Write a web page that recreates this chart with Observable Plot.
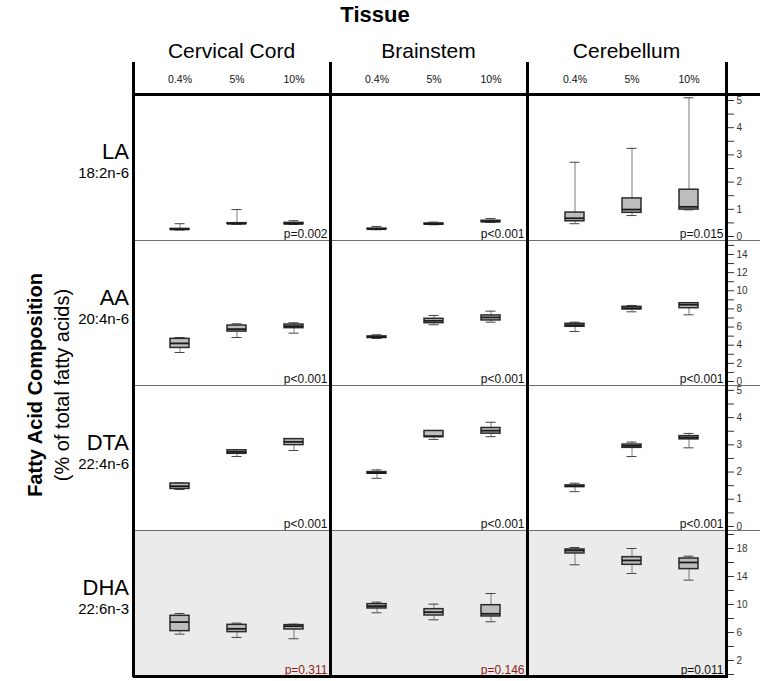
<!DOCTYPE html>
<html>
<head>
<meta charset="utf-8">
<script src="https://cdn.jsdelivr.net/npm/d3@7"></script>
<script src="https://cdn.jsdelivr.net/npm/@observablehq/plot@0.6"></script>
<style>
  body { margin: 0; background: #fff; font-family: "Liberation Sans", Arial, sans-serif; color: #000; }
  #fig { position: relative; width: 760px; height: 681px; overflow: hidden; background: #fff; }
  #fig > * { position: absolute; }
  .txt { white-space: nowrap; line-height: 1; }
</style>
</head>
<body>
<div id="fig"></div>
<script>
// ---------------- DATA ----------------
const tissues = ["Cervical Cord", "Brainstem", "Cerebellum"];
const doses = ["0.4%", "5%", "10%"];
const acids = ["LA", "AA", "DTA", "DHA"];
const acidNotation = ["18:2n-6", "20:4n-6", "22:4n-6", "22:6n-3"];

// Each entry: [min, q1, median, q3, max]; order: tissue (CC, BS, CB) x dose (0.4%, 5%, 10%)
const laStats = [
  [0.24, 0.25, 0.26, 0.28, 0.47], [0.45, 0.46, 0.47, 0.49, 0.99], [0.44, 0.45, 0.47, 0.50, 0.58],
  [0.25, 0.26, 0.27, 0.29, 0.37], [0.43, 0.44, 0.46, 0.48, 0.53], [0.52, 0.53, 0.55, 0.58, 0.66],
  [0.47, 0.56, 0.67, 0.88, 2.73], [0.77, 0.87, 0.99, 1.40, 3.24], [0.98, 0.99, 1.09, 1.72, 5.10]
];
const aaStats = [
  [3.20, 3.70, 4.20, 4.70, 4.85], [4.85, 5.50, 5.77, 6.17, 6.36], [5.33, 5.88, 6.10, 6.28, 6.47],
  [4.74, 4.80, 4.89, 4.97, 5.15], [6.25, 6.43, 6.69, 6.91, 7.28], [6.54, 6.73, 7.06, 7.28, 7.75],
  [5.51, 6.03, 6.21, 6.36, 6.54], [7.68, 7.94, 8.08, 8.23, 8.38], [7.35, 8.08, 8.46, 8.63, 8.66]
];
const dtaStats = [
  [1.36, 1.38, 1.48, 1.58, 1.60], [2.57, 2.67, 2.74, 2.80, 2.82], [2.79, 2.99, 3.11, 3.21, 3.23],
  [1.77, 1.94, 1.97, 2.00, 2.08], [3.20, 3.28, 3.32, 3.51, 3.52], [3.30, 3.41, 3.52, 3.62, 3.83],
  [1.28, 1.45, 1.48, 1.51, 1.59], [2.57, 2.89, 2.96, 3.01, 3.10], [2.89, 3.20, 3.27, 3.32, 3.42]
];
const dhaStats = [
  [5.76, 6.19, 7.48, 8.38, 8.71], [5.29, 6.05, 6.52, 7.09, 7.33], [5.10, 6.43, 6.90, 7.05, 7.19],
  [8.81, 9.43, 9.76, 10.05, 10.33], [7.81, 8.43, 8.90, 9.33, 10.05], [7.53, 8.29, 8.67, 9.90, 11.57],
  [15.67, 17.29, 17.71, 17.86, 18.14], [14.43, 15.67, 16.29, 16.76, 18.00], [13.48, 15.05, 16.00, 16.57, 16.90]
];

const laP = ["p=0.002", "p<0.001", "p=0.015"];
const aaP = ["p<0.001", "p<0.001", "p<0.001"];
const dtaP = ["p<0.001", "p<0.001", "p<0.001"];
const dhaP = ["p=0.311", "p=0.146", "p=0.011"];
const dhaNotSignificant = [true, true, false];

const laTickValues = [0, 0.5, 1, 1.5, 2, 2.5, 3, 3.5, 4, 4.5, 5];
const laTickLabels = [0, 1, 2, 3, 4, 5];
const aaTickValues = [0, 1, 2, 3, 4, 5, 6, 7, 8, 9, 10, 11, 12, 13, 14, 15];
const aaTickLabels = [0, 2, 4, 6, 8, 10, 12, 14];
const dtaTickValues = [0, 0.5, 1, 1.5, 2, 2.5, 3, 3.5, 4, 4.5, 5];
const dtaTickLabels = [0, 1, 2, 3, 4, 5];
const dhaTickValues = [0, 2, 4, 6, 8, 10, 12, 14, 16, 18, 20];
const dhaTickLabels = [2, 6, 10, 14, 18];

// ---------------- LAYOUT ----------------
const allStats = [laStats, aaStats, dtaStats, dhaStats];
const allP = [laP, aaP, dtaP, dhaP];
const allRed = [[false, false, false], [false, false, false], [false, false, false], dhaNotSignificant];
const allTickValues = [laTickValues, aaTickValues, dtaTickValues, dhaTickValues];
const allTickLabels = [laTickLabels, aaTickLabels, dtaTickLabels, dhaTickLabels];
const yDomains = [[-0.147, 5.22], [-0.44, 15.54], [-0.147, 5.18], [-0.29, 20.57]];

const colLefts = [133, 330, 527];
const colWidths = [197, 197, 199];
const rowTops = [94, 240, 385, 530];
const rowHeights = [146, 145, 145, 146];
const FONT = '"Liberation Sans", Arial, sans-serif';

const fig = document.getElementById("fig");

function place(el, left, top) {
  el.style.position = "absolute";
  el.style.left = left + "px";
  el.style.top = top + "px";
  fig.appendChild(el);
  return el;
}
function label(text, x, y, css, anchor = "center", rotate = 0) {
  const d = document.createElement("div");
  d.className = "txt";
  d.textContent = text;
  Object.assign(d.style, css);
  const tx = anchor === "right" ? "-100%" : anchor === "left" ? "0" : "-50%";
  d.style.transform = `translate(${tx},-50%)` + (rotate ? ` rotate(${rotate}deg)` : "");
  place(d, x, y);
  return d;
}
function line(x, y, w, h, color = "#000") {
  const d = document.createElement("div");
  d.style.width = w + "px";
  d.style.height = h + "px";
  d.style.background = color;
  return place(d, x, y);
}

const xBand = {
  type: "band", domain: doses, paddingInner: 0.668, paddingOuter: 0.553, align: 0.576, axis: null
};

// Panels
acids.forEach((acid, ai) => {
  tissues.forEach((tissue, ti) => {
    const data = doses.map((dose, di) => {
      const s = allStats[ai][ti * 3 + di];
      return {dose, min: s[0], q1: s[1], med: s[2], q3: s[3], max: s[4]};
    });
    const red = allRed[ai][ti];
    const svg = Plot.plot({
      width: colWidths[ti],
      height: rowHeights[ai],
      marginTop: 0, marginRight: 0, marginBottom: 0, marginLeft: 0,
      x: xBand,
      y: {domain: yDomains[ai], axis: null},
      style: {
        background: ai === 3 ? "#ebebeb" : "#ffffff",
        fontFamily: FONT,
        overflow: "visible"
      },
      marks: [
        Plot.ruleX(data, {x: "dose", y1: "min", y2: "q1", stroke: "#7d7d7d", strokeWidth: 1}),
        Plot.ruleX(data, {x: "dose", y1: "q3", y2: "max", stroke: "#7d7d7d", strokeWidth: 1}),
        Plot.tickY(data, {x: "dose", y: "max", stroke: "#444", strokeWidth: 1, insetLeft: 4.5, insetRight: 4.5}),
        Plot.tickY(data, {x: "dose", y: "min", stroke: "#444", strokeWidth: 1, insetLeft: 4.5, insetRight: 4.5}),
        Plot.barY(data, {x: "dose", y1: "q1", y2: "q3", fill: "#bdbdbd", stroke: "#2a2a2a", strokeWidth: 1.5}),
        Plot.tickY(data, {x: "dose", y: "med", stroke: "#1a1a1a", strokeWidth: 1.8}),
        Plot.text([allP[ai][ti]], {
          frameAnchor: "bottom-right", text: d => d, dx: -3, dy: -3,
          fontSize: 12, fill: red ? "#8c1d1d" : "#111"
        })
      ]
    });
    place(svg, colLefts[ti], rowTops[ai]);
  });

  // right axis
  const tv = allTickValues[ai], tl = allTickLabels[ai];
  const ax = Plot.plot({
    width: 33, height: rowHeights[ai],
    marginTop: 0, marginBottom: 0, marginLeft: 0, marginRight: 33,
    y: {
      domain: yDomains[ai], axis: "right", label: null,
      ticks: tv, tickFormat: v => (tl.includes(v) ? String(v) : ""),
      tickSize: 6, tickPadding: 3
    },
    style: {fontFamily: FONT, fontSize: "10px", color: "#333", background: "transparent", overflow: "visible"},
    marks: []
  });
  place(ax, 727, rowTops[ai]);

  // row labels
  label(acid, 129, rowTops[ai] + 58, {fontSize: "22px"}, "right");
  label(acidNotation[ai], 129, rowTops[ai] + 78, {fontSize: "15px"}, "right");
});

// header dose labels
tissues.forEach((tissue, ti) => {
  const hdr = Plot.plot({
    width: colWidths[ti], height: 30,
    marginTop: 0, marginRight: 0, marginBottom: 0, marginLeft: 0,
    x: xBand,
    style: {fontFamily: FONT, background: "transparent"},
    marks: [Plot.text(doses, {x: d => d, text: d => d, fontSize: 10.5, fill: "#111"})]
  });
  place(hdr, colLefts[ti], 64);
  label(tissue, colLefts[ti] + colWidths[ti] / 2, 50, {fontSize: "21px"});
});

// Titles
label("Tissue", 375, 15, {fontSize: "22px", fontWeight: "bold"});
label("Fatty Acid Composition", 35, 385, {fontSize: "20px", fontWeight: "bold"}, "center", -90);
label("(% of total fatty acids)", 62, 385, {fontSize: "20px"}, "center", -90);

// Grid lines
rowTops.slice(1).forEach(y => line(133, y - 0.5, 627, 1.2, "#6f6f6f"));
line(133, 92.5, 627, 3);
line(133, 674.5, 595, 3);
[133, 330, 527, 726].forEach(x => line(x - 1.5, 62, 3, 615));
</script>
</body>
</html>
